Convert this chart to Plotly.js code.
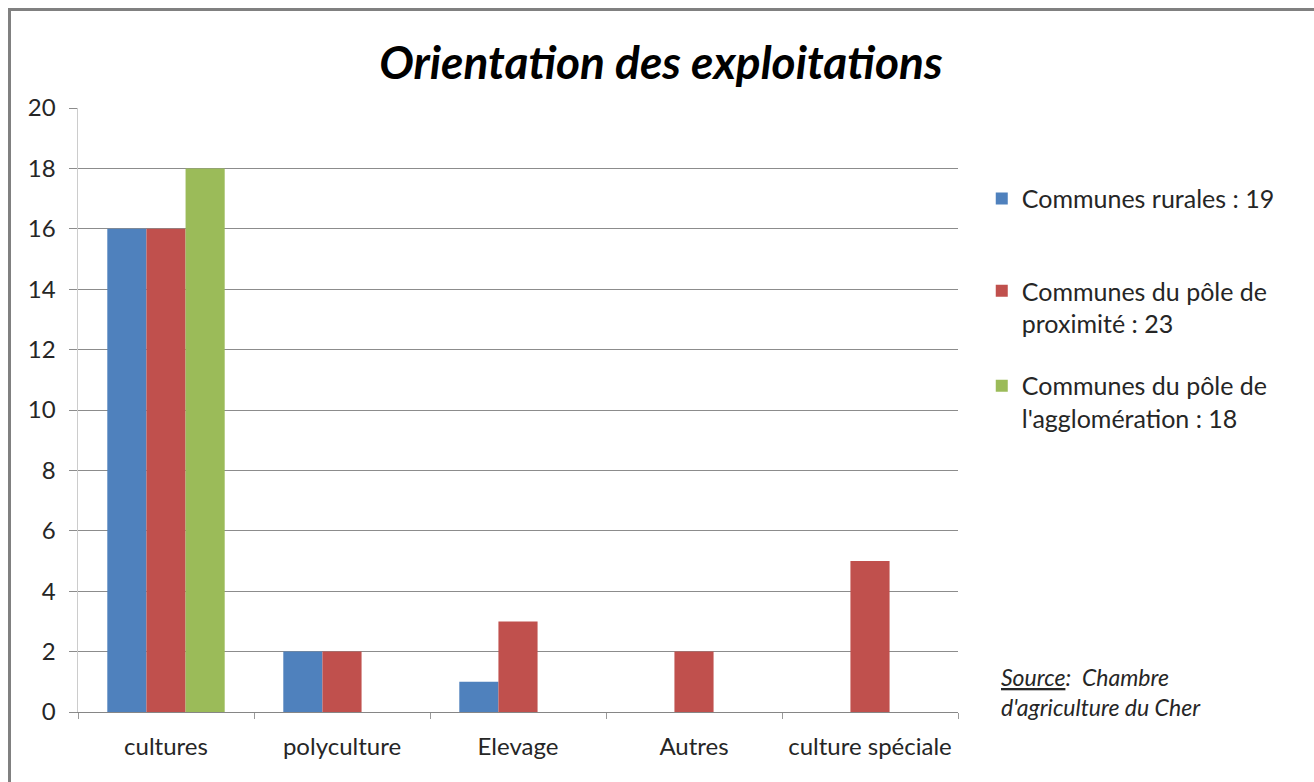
<!DOCTYPE html>
<html>
<head>
<meta charset="utf-8">
<script src="https://cdn.plot.ly/plotly-3.0.1.min.js"></script>
<style>
  body { margin: 0; background: #fff; }
  #wrap { position: relative; width: 1314px; height: 782px; overflow: hidden; }
  #chart { width: 1314px; height: 782px; }
  #frame { position: absolute; left: 8px; top: 8px; width: 1400px; height: 900px;
           border-top: 3px solid #808080; border-left: 3px solid #808080; pointer-events: none; }
</style>
</head>
<body>
<div id="wrap">
  <div id="chart"></div>
  <div id="frame"></div>
</div>
<script>
const categories = ['cultures', 'polyculture', 'Elevage', 'Autres', 'culture spéciale'];
const rurales = [16, 2, 1, null, null];
const proximite = [16, 2, 3, 2, 5];
const agglomeration = [18, null, null, null, null];
const seriesNames = [
    'Communes rurales : 19',
    'Communes du pôle de<br>proximité : 23',
    'Communes du pôle de<br>l\'agglomération : 18'
];
const seriesColors = ['#4F81BD', '#C0504D', '#9BBB59'];

const FONT = 'Lato, "Open Sans", sans-serif';
const TEXT = '#262626';

const traces = [rurales, proximite, agglomeration].map((values, i) => ({
    type: 'bar',
    x: categories,
    y: values,
    name: seriesNames[i],
    marker: { color: seriesColors[i] },
    legend: i === 0 ? 'legend' : 'legend' + (i + 1),
    hoverinfo: 'x+y+name'
}));

function legendAt(y) {
    return {
        x: 1.027, xanchor: 'left',
        y: y, yanchor: 'top',
        valign: 'top',
        bgcolor: 'rgba(0,0,0,0)',
        font: { family: FONT, size: 25, color: TEXT }
    };
}

const layout = {
    width: 1314,
    height: 782,
    margin: { l: 78, r: 356, t: 108, b: 70 },
    paper_bgcolor: '#fff',
    plot_bgcolor: '#fff',
    font: { family: FONT, color: TEXT },
    title: {
        text: 'Orientation des exploitations',
        x: 0.503, xanchor: 'center',
        y: 0.92, yanchor: 'middle',
        font: { family: FONT, size: 46, weight: 'bold', style: 'italic', color: '#000' }
    },
    barmode: 'group',
    bargap: 0.333,
    bargroupgap: 0,
    showlegend: true,
    legend: legendAt(0.888),
    legend2: legendAt(0.735),
    legend3: legendAt(0.578),
    xaxis: {
        type: 'category',
        showgrid: false,
        showline: true,
        linecolor: '#868686',
        linewidth: 1,
        ticks: 'outside',
        tickson: 'boundaries',
        ticklen: 6,
        tickcolor: '#9a9a9a',
        ticklabelstandoff: 13,
        tickfont: { family: FONT, size: 24, color: TEXT }
    },
    yaxis: {
        range: [0, 20],
        dtick: 2,
        showgrid: true,
        gridcolor: '#8c8c8c',
        gridwidth: 1,
        zeroline: false,
        showline: true,
        linecolor: '#cccccc',
        linewidth: 1.5,
        ticks: 'outside',
        ticklen: 8,
        tickcolor: '#8c8c8c',
        ticklabelstandoff: 8,
        tickfont: { family: FONT, size: 24, color: TEXT }
    },
    annotations: [{
        xref: 'paper', yref: 'paper',
        x: 1.047, xanchor: 'left',
        y: 0.084, yanchor: 'top',
        align: 'left',
        showarrow: false,
        text: '<i><u>Source</u>:  Chambre<br>d\'agriculture du Cher</i>',
        font: { family: FONT, size: 23, color: TEXT }
    }]
};

Plotly.newPlot('chart', traces, layout, { displayModeBar: false, staticPlot: true });
</script>
</body>
</html>
